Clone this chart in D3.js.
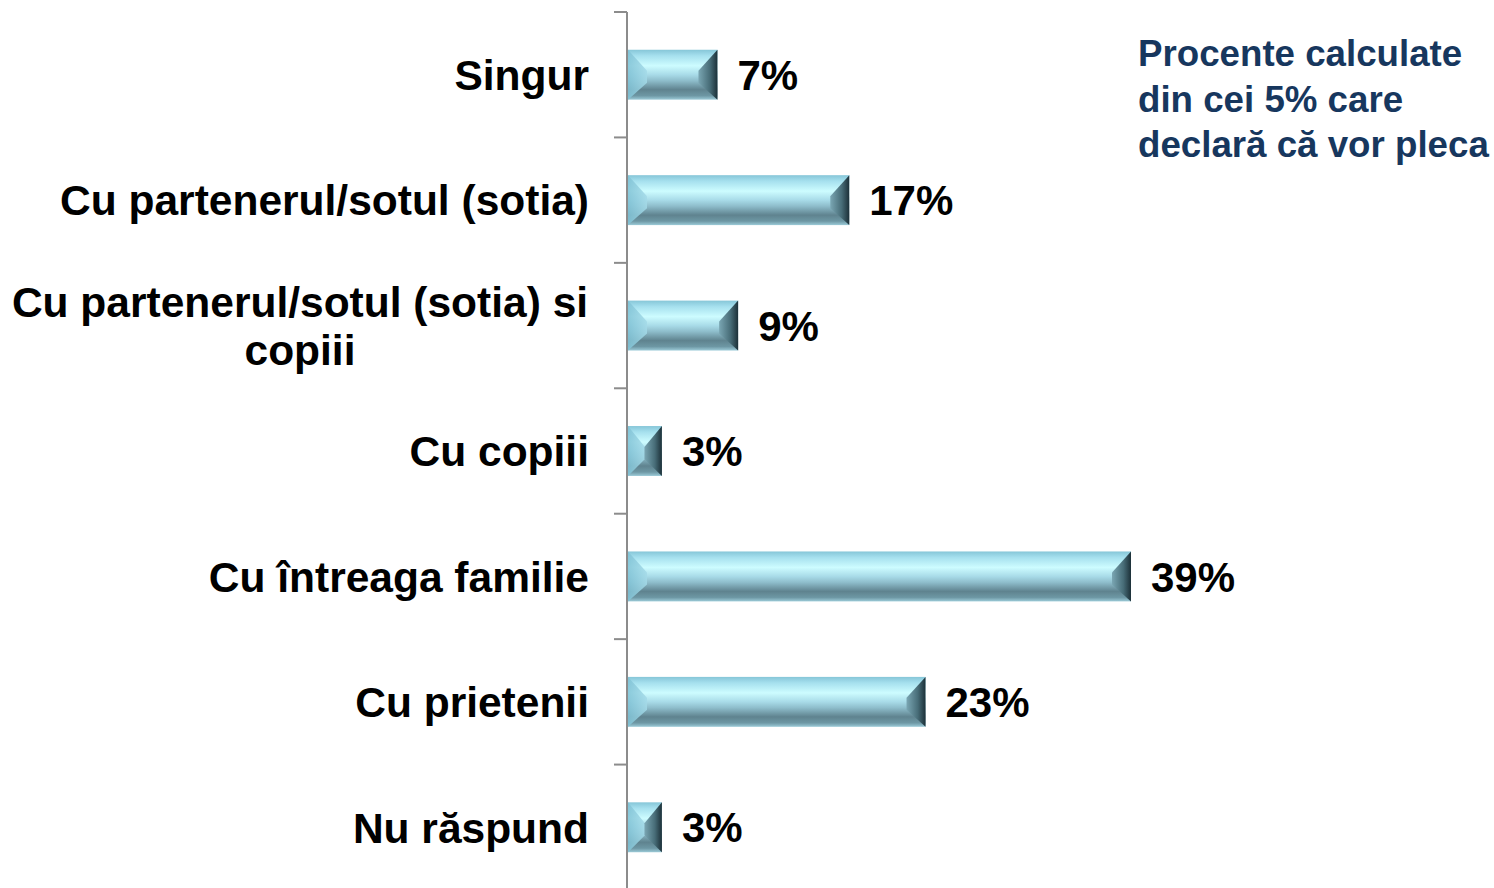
<!DOCTYPE html>
<html>
<head>
<meta charset="utf-8">
<script src="https://cdn.jsdelivr.net/npm/d3@7"></script>
<style>
  body { margin: 0; background: #fff; }
  svg { display: block; font-family: "Liberation Sans", Arial, sans-serif; }
</style>
</head>
<body>
<svg width="1494" height="888"></svg>
<script>
const svg = d3.select("svg");
var width = parseInt(svg.attr("width"));
var height = parseInt(svg.attr("height"));

// data (bar lengths, labels are their rounded values)
const categories = [
  ["Singur"],
  ["Cu partenerul/sotul (sotia)"],
  ["Cu partenerul/sotul (sotia) si", "copiii"],
  ["Cu copiii"],
  ["Cu întreaga familie"],
  ["Cu prietenii"],
  ["Nu răspund"],
];
const values = [7, 17.2, 8.6, 2.7, 39, 23.1, 2.7];
const note = ["Procente calculate", "din cei 5% care", "declară că vor pleca"];

const keys = categories.map((c) => c.join(" "));
const axisX = 627;
const fmt = d3.format(".0f");

const x = d3.scaleLinear().domain([0, 39]).range([axisX, 1131]);
const y = d3.scaleBand().domain(keys).range([12, 890]).paddingInner(0.602).paddingOuter(0.301);

// gradients
const defs = svg.append("defs");
const face = defs.append("linearGradient").attr("id", "face")
  .attr("x1", 0).attr("y1", 0).attr("x2", 0).attr("y2", 1);
[[0, "#86c6d8"], [0.12, "#a6e0ee"], [0.32, "#cdfcff"], [0.5, "#a8dbe8"],
 [0.62, "#8ebdcb"], [0.8, "#5f838f"], [0.92, "#6d97a4"], [1, "#9ccbd8"]]
  .forEach(([o, c]) => face.append("stop").attr("offset", o).attr("stop-color", c));
const leftG = defs.append("linearGradient").attr("id", "leftBevel")
  .attr("x1", 0).attr("y1", 0).attr("x2", 1).attr("y2", 0);
leftG.append("stop").attr("offset", 0).attr("stop-color", "#80c2d5");
leftG.append("stop").attr("offset", 1).attr("stop-color", "#a4dae8");
const rightG = defs.append("linearGradient").attr("id", "rightBevel")
  .attr("x1", 0).attr("y1", 0).attr("x2", 1).attr("y2", 0);
rightG.append("stop").attr("offset", 0).attr("stop-color", "#7aa6b3");
rightG.append("stop").attr("offset", 0.6).attr("stop-color", "#476c77");
rightG.append("stop").attr("offset", 1).attr("stop-color", "#1c3038");

// axis
const step = y.step();
const gap = (step - y.bandwidth()) / 2;
svg.append("line")
  .attr("x1", axisX).attr("x2", axisX)
  .attr("y1", y(keys[0]) - gap).attr("y2", height)
  .attr("stroke", "#8c8c8c").attr("stroke-width", 2);
svg.selectAll("line.tick")
  .data(keys)
  .enter()
  .append("line")
  .attr("class", "tick")
  .attr("x1", axisX - 13).attr("x2", axisX)
  .attr("y1", (d) => y(d) - gap).attr("y2", (d) => y(d) - gap)
  .attr("stroke", "#8c8c8c").attr("stroke-width", 2);

// bars
const bars = svg.selectAll("g.bar")
  .data(values)
  .enter()
  .append("g")
  .attr("class", "bar");
const bh = y.bandwidth();
bars.append("rect")
  .attr("x", axisX + 1)
  .attr("y", (d, i) => y(keys[i]))
  .attr("width", (d) => x(d) - axisX - 1)
  .attr("height", bh)
  .attr("fill", "url(#face)");
bars.append("path")
  .attr("d", (d, i) => {
    const x0 = axisX + 1, y0 = y(keys[i]), b = Math.min(19, (x(d) - x0) / 2);
    return `M${x0},${y0}L${x0 + b},${y0 + bh * 0.42}L${x0 + b},${y0 + bh * 0.66}L${x0},${y0 + bh}Z`;
  })
  .attr("fill", "url(#leftBevel)")
  .attr("opacity", 0.85);
bars.append("path")
  .attr("d", (d, i) => {
    const x1 = x(d), y0 = y(keys[i]), b = Math.min(19, (x1 - axisX) / 2);
    return `M${x1},${y0}L${x1 - b},${y0 + bh * 0.42}L${x1 - b},${y0 + bh * 0.66}L${x1},${y0 + bh}Z`;
  })
  .attr("fill", "url(#rightBevel)");

// value labels
svg.selectAll("text.val")
  .data(values)
  .enter()
  .append("text")
  .attr("class", "val")
  .attr("x", (d) => x(d) + 20)
  .attr("y", (d, i) => y(keys[i]) + bh / 2)
  .attr("dy", "0.36em")
  .style("font-size", "42px")
  .style("font-weight", "bold")
  .text((d) => fmt(d) + "%");

// category labels
const labels = svg.selectAll("text.cat")
  .data(categories)
  .enter()
  .append("text")
  .attr("class", "cat")
  .style("font-size", "42.5px")
  .style("font-weight", "bold");
labels.each(function (lines, i) {
  const t = d3.select(this);
  const cy = y(keys[i]) + bh / 2;
  if (lines.length === 1) {
    t.attr("text-anchor", "end")
      .attr("x", 589).attr("y", cy).attr("dy", "0.36em").text(lines[0]);
  } else {
    t.attr("text-anchor", "middle");
    lines.forEach((l, j) => {
      t.append("tspan")
        .attr("x", 300)
        .attr("y", cy + (j - (lines.length - 1) / 2) * 48)
        .attr("dy", "0.36em")
        .text(l);
    });
  }
});

// note
svg.append("text")
  .style("font-size", "36.7px")
  .style("font-weight", "bold")
  .attr("fill", "#17375e")
  .selectAll("tspan")
  .data(note)
  .enter()
  .append("tspan")
  .attr("x", 1138)
  .attr("y", (d, i) => 53 + i * 45.5)
  .attr("dy", "0.36em")
  .text((d) => d);
</script>
</body>
</html>
